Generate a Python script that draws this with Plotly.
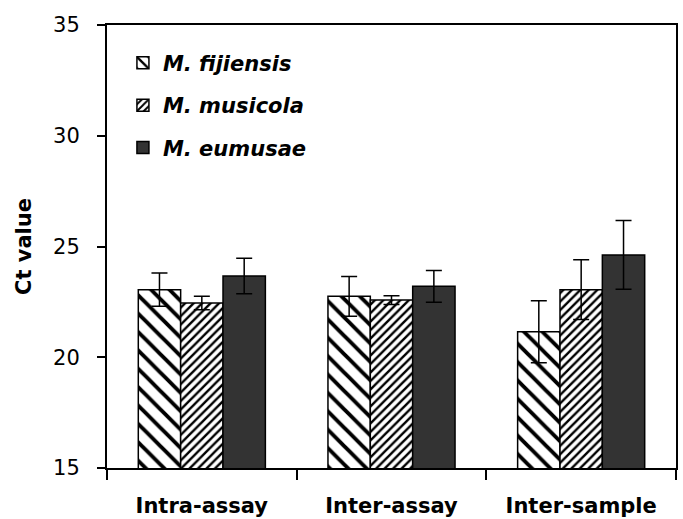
import plotly.graph_objects as go

categories = ["Intra-assay", "Inter-assay", "Inter-sample"]
series_names = ["M. fijiensis", "M. musicola", "M. eumusae"]
fijiensis = [23.05, 22.75, 21.15]
fijiensis_err = [0.75, 0.9, 1.4]
musicola = [22.45, 22.58, 23.05]
musicola_err = [0.3, 0.2, 1.35]
eumusae = [23.67, 23.2, 24.62]
eumusae_err = [0.8, 0.72, 1.55]
y_ticks = [15, 20, 25, 30, 35]

FONT = "DejaVu Sans, Liberation Sans, Arial, sans-serif"

styles = [
    dict(color="white", pattern=dict(shape="\\", size=13, solidity=0.3, fgcolor="black", bgcolor="white", fgopacity=1)),
    dict(color="white", pattern=dict(shape="/", size=6, solidity=0.4, fgcolor="black", bgcolor="white", fgopacity=1)),
    dict(color="#333333", pattern=None),
]
values = [fijiensis, musicola, eumusae]
errs = [fijiensis_err, musicola_err, eumusae_err]

fig = go.Figure()
for i, (name, v, e, st) in enumerate(zip(series_names, values, errs, styles)):
    marker = dict(color=st["color"], line=dict(color="black", width=1.5))
    if st["pattern"] is not None:
        marker["pattern"] = st["pattern"]
    fig.add_trace(go.Bar(
        x=categories, y=v, name=name, marker=marker,
        legendgroup=f"g{i}",
        error_y=dict(type="data", array=e, color="black", thickness=1.5, width=8),
    ))

fig.update_layout(
    width=683, height=519,
    margin=dict(l=107, r=7, t=25, b=51, autoexpand=False),
    paper_bgcolor="white", plot_bgcolor="white",
    barmode="group", bargap=0.33, bargroupgap=0,
    font=dict(family=FONT, color="black", size=21),
    legend=dict(
        x=0.028, y=0.96, xanchor="left", yanchor="top",
        bgcolor="rgba(0,0,0,0)", tracegroupgap=12,
        font=dict(family=FONT, size=21, weight="bold", style="italic", color="black"),
    ),
    showlegend=True,
)
fig.update_xaxes(
    showline=True, linecolor="black", linewidth=2, mirror=True,
    ticks="outside", tickson="boundaries", ticklen=10, tickwidth=2, tickcolor="black",
    tickfont=dict(family=FONT, size=21, weight="bold"),
    ticklabelstandoff=18,
    showgrid=False,
)
fig.update_yaxes(
    range=[15, 35], tickvals=y_ticks,
    showline=True, linecolor="black", linewidth=2, mirror=True,
    ticks="outside", ticklen=8, tickwidth=2, tickcolor="black",
    tickfont=dict(family=FONT, size=21),
    ticklabelstandoff=13,
    showgrid=False, zeroline=False,
    title=dict(text="Ct value", font=dict(family=FONT, size=21, weight="bold"), standoff=16),
)

fig.write_html("out.html", config={"displayModeBar": False},
               post_script="document.body.style.margin='0';document.body.style.overflow='hidden';")
